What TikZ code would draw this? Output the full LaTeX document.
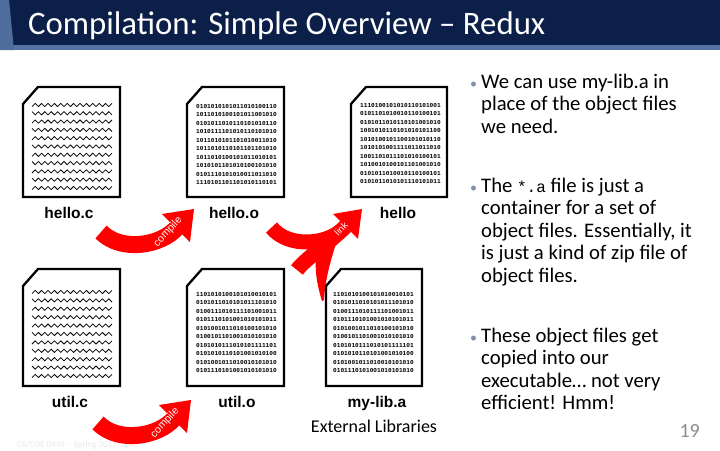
\documentclass[tikz,border=0pt]{standalone}
\usepackage{fontspec}
\setmainfont{Carlito}
\setmonofont{Liberation Mono}
\newfontfamily\labfont{Liberation Sans}
\newfontfamily\binfont{Liberation Mono}
\definecolor{navy}{HTML}{0B1F48}
\definecolor{band}{HTML}{5673A3}
\definecolor{leftblue}{HTML}{4E6C9C}
\definecolor{arrowred}{HTML}{FF0000}
\definecolor{bulletgray}{HTML}{8090A8}
\definecolor{pagegray}{HTML}{8C8C8C}
\definecolor{footgray}{HTML}{E8E8E8}
\newcommand\mydoc[4]{\path[docline] (#1,#2+17) -- (#1+15,#2) -- (#3,#2) -- (#3,#4) -- (#1,#4) -- cycle;}
\newcommand\zzA[2]{\draw[zz] (#1,#2+1.6) \foreach \k in {1,...,12}{ -- ++(3.2,-3.2) -- ++(3.2,3.2)} -- ++(3.2,-3.2);}
\newcommand\zzB[2]{\draw[zz] (#1,#2-1.6) \foreach \k in {1,...,12}{ -- ++(3.2,3.2) -- ++(3.2,-3.2)} -- ++(3.2,3.2);}
\begin{document}
\begin{tikzpicture}[x=1pt,y=-1pt,
  docline/.style={draw=black, line width=2.3pt, fill=white, line join=miter},
  zz/.style={line width=0.75pt, line join=miter},
  bits/.style={font=\binfont\bfseries\fontsize{6.1}{8.5}\selectfont, align=left, inner sep=0pt, anchor=north west},
  lab/.style={font=\labfont\bfseries\fontsize{15.5}{18}\selectfont, inner sep=0pt, anchor=base},
  bul/.style={font=\fontsize{20.7}{22.5}\selectfont, anchor=base west, inner sep=0pt},
  bulletdot/.style={font=\fontsize{14}{15}\selectfont, text=bulletgray, anchor=base west, inner sep=0pt},
  redbody/.style={draw=arrowred, line width=17pt},
  arrowtext/.style={text=white, font=\labfont\fontsize{10.5}{11}\selectfont, inner sep=0pt},
]
\useasboundingbox (0,0) rectangle (720,450);
% title bar
\fill[navy] (0,0) rectangle (720,45);
\fill[band] (0,45) rectangle (720,50);
\fill[leftblue] (0,0) -- (9,0) -- (14,50) -- (0,50) -- cycle;
\node[anchor=base west, inner sep=0pt, text=white, font=\fontsize{32.8}{36}\selectfont] (title) at (28,34) {Compilation: Simple Overview – Redux};
% footer
\node[anchor=base west, inner sep=0pt, text=footgray, font=\fontsize{9}{10}\selectfont] (footer) at (17,447) {CS/COE 0449 – Spring 2011/2012};
% ---------- red arrows ----------
% compile (top)
\coordinate (c1t) at (101,232);
\coordinate (c1h) at (176.5,228);
\draw[redbody] (c1t) .. controls (122,253) and (162,245) .. (c1h);
\fill[arrowred] (194,209) -- (162,214) -- (190,242) -- cycle;
\node[arrowtext, rotate=47] (comp1) at (168,232) {compile};
% compile (bottom)
\begin{scope}[shift={(-3,191)}]
\coordinate (c2t) at (101,232);
\coordinate (c2h) at (176.5,228);
\draw[redbody] (c2t) .. controls (122,253) and (162,245) .. (c2h);
\fill[arrowred] (194,209) -- (162,214) -- (190,242) -- cycle;
\node[arrowtext, rotate=47] (comp2) at (168,232) {compile};
\end{scope}
% link
\coordinate (lA) at (271.5,227.5);
\coordinate (lB) at (297,270);
\coordinate (lC) at (322,301);
\coordinate (lH) at (345.5,226.5);
\draw[draw=arrowred, line width=15pt] (lA) .. controls (288,248) and (328,246) .. (lH);
\draw[draw=arrowred, line width=15pt] (lB) .. controls (306,258) and (326,246) .. (lH);
\fill[arrowred] (lC) .. controls (317,285) and (313,265) .. (318,248) -- (338,238) .. controls (331,258) and (325,280) .. (324,300) -- cycle;
\fill[arrowred] (362,209) -- (333,214) -- (358,239) -- cycle;
\node[arrowtext, rotate=45, font=\labfont\fontsize{9.5}{10}\selectfont] (linktext) at (341,229) {link};
% ---------- documents ----------
\mydoc{23}{87}{120}{197}
\mydoc{187}{87}{284}{197}
\mydoc{351}{87}{447}{197}
\mydoc{23}{269}{120}{386}
\mydoc{187}{269}{284}{386}
\mydoc{326}{269}{422}{386}
% source text (zigzags)
\foreach \i in {0,2,...,10} {\zzA{32}{105+8.3*\i}}
\foreach \i in {1,3,...,9} {\zzB{32}{105+8.3*\i}}
\foreach \i in {0,2,...,10} {\zzA{32}{292+8.4*\i}}
\foreach \i in {1,3,...,9} {\zzB{32}{292+8.4*\i}}
% binary contents
\node[bits] (hobits) at (196,104) {0101010101011010100110\\1011010100101011001010\\0101011010110101010110\\1010111101010110101010\\1011010101101010011010\\1011010110101101101010\\1011010100101011010101\\1010101101010100101010\\0101110101010011011010\\1110101101101010110101};
\node[bits] (hbits) at (360,103) {1110100101010110101001\\0101101010010110100101\\0101011010110101001010\\1001010110101010101100\\1010100101100101010110\\1010101001111011011010\\1001101011101010100101\\1010010100101101001010\\0101011010010110100101\\0101011010101110101011};
\node[bits] (uobits) at (196,292) {1101010100101010010101\\0101011010101011101010\\0100111010111101001011\\0101110101001010101011\\0101001011010100101010\\0100101101001010101010\\0101010111010101111101\\0101010110101001010100\\0101001011010010101010\\0101110101001010101010};
\node[bits] (libbits) at (333,292) {1101010100101010010101\\0101011010101011101010\\0100111010111101001011\\0101110101001010101011\\0101001011010100101010\\0100101101001010101010\\0101010111010101111101\\0101010110101001010100\\0101001011010010101010\\0101110101001010101010};
% labels
\node[lab] (lhc) at (69,218) {hello.c};
\node[lab] (lho) at (234,218) {hello.o};
\node[lab] (lh) at (398,218) {hello};
\node[lab] (luc) at (70,407) {util.c};
\node[lab] (luo) at (237,407) {util.o};
\node[lab] (llib) at (377,407) {my-lib.a};
\node[inner sep=0pt, anchor=base, font=\fontsize{18}{21}\selectfont] (ext) at (374,432) {External Libraries};
% bullets
\node[bulletdot] (d1) at (470,88) {•};
\node[bul] (b1a) at (481,88) {We can use my-lib.a in};
\node[bul] (b1b) at (481,110.5) {place of the object files};
\node[bul] (b1c) at (481,133) {we need.};
\node[bulletdot] (d2) at (470,192) {•};
\node[bul] (b2a) at (481,192) {The {\fontsize{16}{20}\selectfont\texttt{*.a}} file is just a};
\node[bul] (b2b) at (481,214.5) {container for a set of};
\node[bul] (b2c) at (481,237) {object files. Essentially, it};
\node[bul] (b2d) at (481,259.5) {is just a kind of zip file of};
\node[bul] (b2e) at (481,282) {object files.};
\node[bulletdot] (d3) at (470,342) {•};
\node[bul] (b3a) at (481,342) {These object files get};
\node[bul] (b3b) at (481,364.5) {copied into our};
\node[bul] (b3c) at (481,387) {executable… not very};
\node[bul] (b3d) at (481,409.5) {efficient! Hmm!};
% page number
\node[anchor=base east, inner sep=0pt, text=pagegray, font=\fontsize{20}{24}\selectfont] (page) at (700,437) {19};
\end{tikzpicture}
\end{document}
